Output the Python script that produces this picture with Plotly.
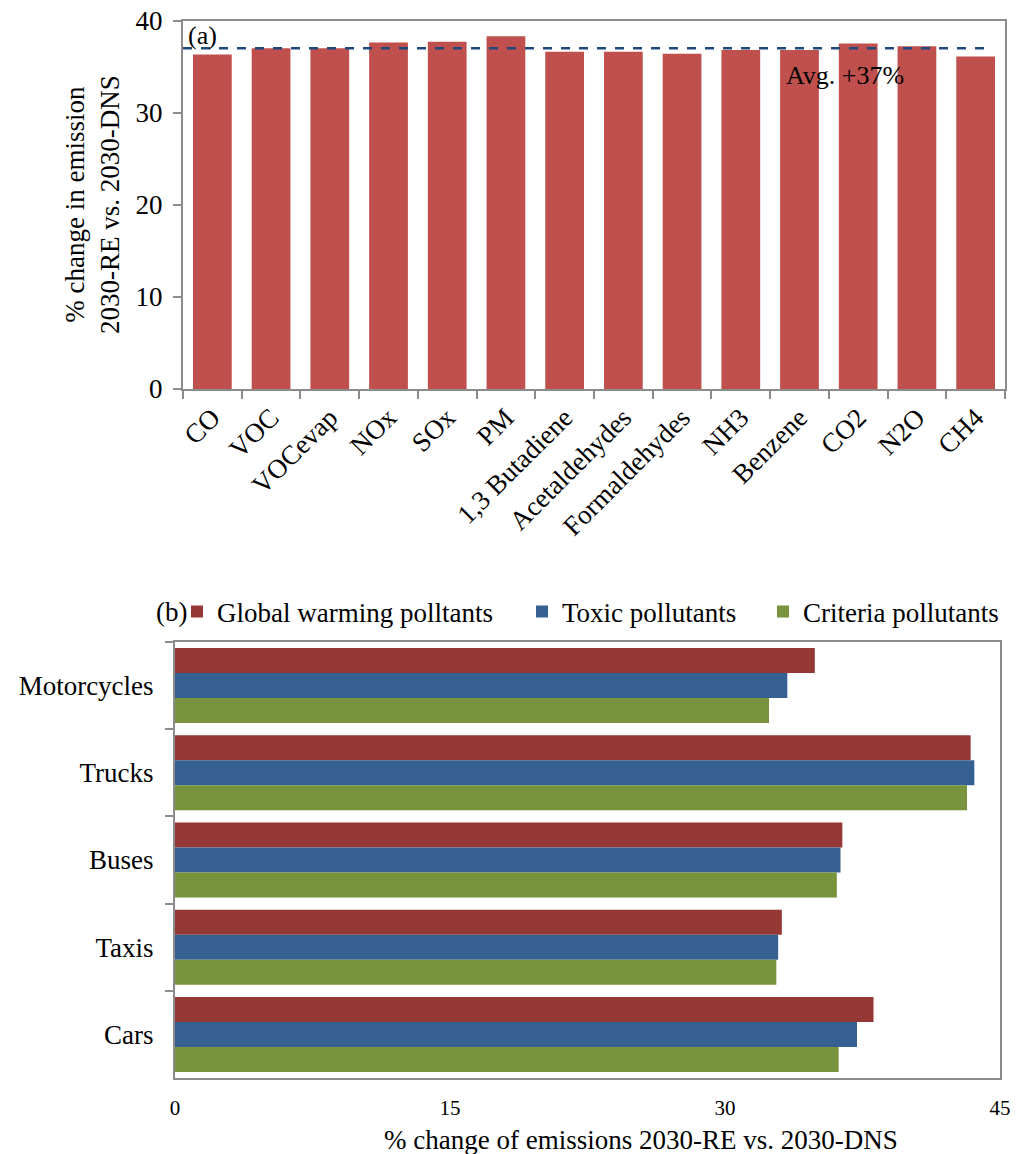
import plotly.graph_objects as go

# ---- Panel (a): change in emission by pollutant ----
pollutants = ["CO", "VOC", "VOCevap", "NOx", "SOx", "PM", "1,3 Butadiene",
              "Acetaldehydes", "Formaldehydes", "NH3", "Benzene", "CO2", "N2O", "CH4"]
pollutant_change = [36.3, 37.0, 37.0, 37.6, 37.7, 38.3, 36.6,
                    36.6, 36.4, 36.8, 36.8, 37.5, 37.2, 36.1]
avg_change = round(sum(pollutant_change) / len(pollutant_change))  # +37 %

# ---- Panel (b): change in emission by vehicle type ----
vehicles = ["Motorcycles", "Trucks", "Buses", "Taxis", "Cars"]
ghg_change = [34.9, 43.4, 36.4, 33.1, 38.1]
toxic_change = [33.4, 43.6, 36.3, 32.9, 37.2]
criteria_change = [32.4, 43.2, 36.1, 32.8, 36.2]
x_ticks_b = [0, 15, 30, 45]

W, H = 1016, 1154
FONT = "Liberation Serif"
AXIS_GREY = "#8c8c8c"


def px(x):
    return x / W


def py(y):
    return 1 - y / H


fig = go.Figure()

fig.add_trace(go.Bar(
    x=pollutants, y=pollutant_change, marker_color="#C0504D",
    marker_line_width=0, width=0.66, showlegend=False, xaxis="x", yaxis="y",
))

# each series of panel (b) gets its own legend box, laid out in a row
series_b = [
    ("Global warming polltants", ghg_change, "#953735", "legend", 177),
    ("Toxic pollutants", toxic_change, "#376092", "legend2", 522),
    ("Criteria pollutants", criteria_change, "#77933C", "legend3", 763),
]
legend_boxes = {}
for name, vals, color, leg, left in series_b:
    fig.add_trace(go.Bar(
        y=vehicles, x=vals, name=name, orientation="h",
        marker_color=color, marker_line_width=0,
        xaxis="x2", yaxis="y2", legend=leg,
    ))
    legend_boxes[leg] = dict(
        orientation="h", x=px(left), y=py(612), xanchor="left", yanchor="middle",
        font=dict(family=FONT, size=27), bgcolor="rgba(0,0,0,0)",
        borderwidth=0, itemwidth=30,
    )

fig.update_layout(
    template="none",
    width=W, height=H,
    margin=dict(l=0, r=0, t=0, b=0, pad=0, autoexpand=False),
    paper_bgcolor="white", plot_bgcolor="white",
    font=dict(family=FONT, size=27, color="black"),
    barmode="group",
    bargap=0.14, bargroupgap=0,
    showlegend=True,
    **legend_boxes,
    xaxis=dict(
        domain=[px(183), px(1005)], anchor="y", automargin=False,
        showline=True, linecolor=AXIS_GREY, linewidth=2, mirror=True,
        ticks="outside", ticklen=8, tickcolor=AXIS_GREY, tickwidth=2,
        tickson="boundaries", tickangle=-45, showgrid=False,
        tickfont=dict(size=27),
    ),
    yaxis=dict(
        domain=[py(389), py(20.5)], anchor="x", automargin=False,
        range=[0, 40], dtick=10,
        showline=True, linecolor=AXIS_GREY, linewidth=2, mirror=True,
        ticks="outside", ticklen=8, tickcolor=AXIS_GREY, tickwidth=2,
        showgrid=False, zeroline=False, ticklabelstandoff=5,
        tickfont=dict(size=27),
    ),
    xaxis2=dict(
        domain=[px(175), px(1000)], anchor="y2", automargin=False,
        range=[0, 45], tickvals=x_ticks_b,
        showline=True, linecolor=AXIS_GREY, linewidth=2, mirror=True,
        ticks="", ticklabelstandoff=10, showgrid=False, zeroline=False,
        tickfont=dict(size=21),
    ),
    yaxis2=dict(
        domain=[py(1078), py(642)], anchor="x2", automargin=False,
        autorange="reversed",
        showline=True, linecolor=AXIS_GREY, linewidth=2, mirror=True,
        ticks="outside", ticklen=8, tickcolor=AXIS_GREY, tickwidth=2,
        tickson="boundaries", showgrid=False, ticklabelstandoff=14,
        tickfont=dict(size=27),
    ),
)

# average line in panel (a)
fig.add_shape(
    type="line", xref="x domain", yref="y",
    x0=0, x1=0.982, y0=avg_change, y1=avg_change,
    line=dict(color="#1F497D", width=2.5, dash="dash"),
)

annotations = [
    dict(text="(a)", x=px(186), y=py(36), xref="paper", yref="paper",
         xanchor="left", yanchor="middle", showarrow=False, font=dict(size=26)),
    dict(text=f"Avg. +{avg_change}%", x=px(784), y=py(75), xref="paper", yref="paper",
         xanchor="left", yanchor="middle", showarrow=False, font=dict(size=26)),
    dict(text="% change in emission<br>2030-RE vs. 2030-DNS", x=px(92), y=py(205),
         xref="paper", yref="paper", textangle=-90, showarrow=False,
         xanchor="center", yanchor="middle", font=dict(size=27)),
    dict(text="(b)", x=px(171), y=py(612), xref="paper", yref="paper",
         xanchor="center", yanchor="middle", showarrow=False, font=dict(size=27)),
    dict(text="% change of emissions 2030-RE vs. 2030-DNS", x=px(641), y=py(1140),
         xref="paper", yref="paper", xanchor="center", yanchor="middle",
         showarrow=False, font=dict(size=27)),
]
fig.update_layout(annotations=annotations)

fig.write_html("out.html")
